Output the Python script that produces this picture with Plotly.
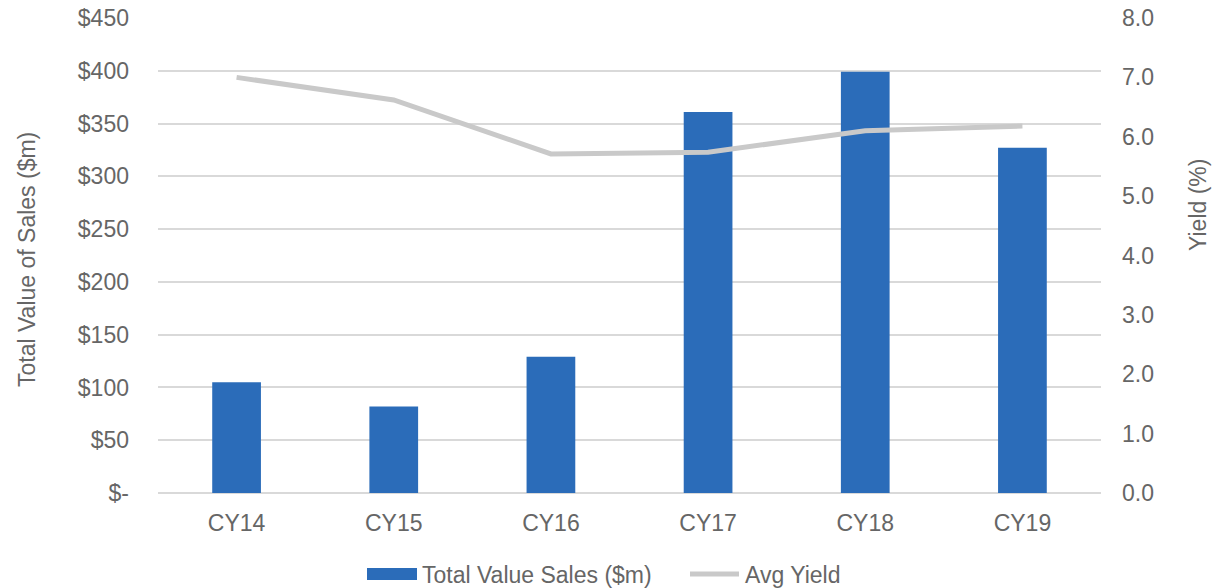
import plotly.graph_objects as go

categories = ["CY14", "CY15", "CY16", "CY17", "CY18", "CY19"]
total_sales = [105, 82, 129, 361, 399, 327]
avg_yield = [7.0, 6.62, 5.71, 5.74, 6.10, 6.18]

left_ticks = [0, 50, 100, 150, 200, 250, 300, 350, 400, 450]
left_labels = ["$-", "$50", "$100", "$150", "$200", "$250", "$300", "$350", "$400", "$450"]
right_ticks = [0, 1, 2, 3, 4, 5, 6, 7, 8]

BLUE = "#2B6CB9"
GREY_LINE = "#C9C9C9"
TXT = "#666666"
FONT = "Liberation Sans, Arial, sans-serif"
FS = 23

fig = go.Figure()
fig.add_trace(go.Bar(x=categories, y=total_sales, name="Total Value Sales ($m)",
                     marker=dict(color=BLUE, line=dict(width=0)), width=0.31,
                     showlegend=False, yaxis="y"))
fig.add_trace(go.Scatter(x=categories, y=avg_yield, name="Avg Yield", mode="lines",
                         line=dict(color=GREY_LINE, width=5), showlegend=False,
                         yaxis="y2"))

fig.update_layout(
    width=1227, height=588,
    margin=dict(l=158, r=126, t=18, b=95, autoexpand=False),
    paper_bgcolor="white", plot_bgcolor="white",
    font=dict(family=FONT, size=FS, color=TXT),
    xaxis=dict(showgrid=False, showline=False, ticks="", ticklabelstandoff=14,
               automargin=False, tickfont=dict(size=FS, color=TXT)),
    yaxis=dict(range=[0, 450], tickvals=left_ticks, ticktext=left_labels,
               showgrid=True, gridcolor="#D9D9D9", gridwidth=1.5,
               zeroline=True, zerolinecolor="#D9D9D9", zerolinewidth=1.5,
               showline=False, ticks="", ticklabelstandoff=28, automargin=False,
               tickfont=dict(size=FS, color=TXT)),
    yaxis2=dict(range=[0, 8], tickvals=right_ticks, tickformat=".1f",
                overlaying="y", side="right", showgrid=False, zeroline=False,
                showline=False, ticks="", ticklabelstandoff=20, automargin=False,
                tickfont=dict(size=FS, color=TXT)),
    showlegend=False,
)

W, H = 943, 475
def px(x):
    return (x - 158) / W
def py(y):
    return (493 - y) / H

annotations = [
    dict(text="Total Value of Sales ($m)", x=px(27), y=py(260), xref="paper", yref="paper",
         showarrow=False, textangle=-90, font=dict(size=FS, color=TXT),
         xanchor="center", yanchor="middle"),
    dict(text="Yield (%)", x=px(1198), y=py(205), xref="paper", yref="paper",
         showarrow=False, textangle=-90, font=dict(size=FS, color=TXT),
         xanchor="center", yanchor="middle"),
    dict(text="Total Value Sales ($m)", x=px(420), y=py(575), xref="paper", yref="paper",
         showarrow=False, font=dict(size=FS, color=TXT), xanchor="left", yanchor="middle"),
    dict(text="Avg Yield", x=px(743), y=py(575), xref="paper", yref="paper",
         showarrow=False, font=dict(size=FS, color=TXT), xanchor="left", yanchor="middle"),
]
shapes = [
    dict(type="rect", xref="paper", yref="paper", x0=px(367), x1=px(417),
         y0=py(568), y1=py(580), fillcolor=BLUE, line=dict(width=0)),
    dict(type="line", xref="paper", yref="paper", x0=px(690), x1=px(739),
         y0=py(574), y1=py(574), line=dict(color=GREY_LINE, width=5)),
]
fig.update_layout(annotations=annotations, shapes=shapes)

fig.write_html("out.html")
